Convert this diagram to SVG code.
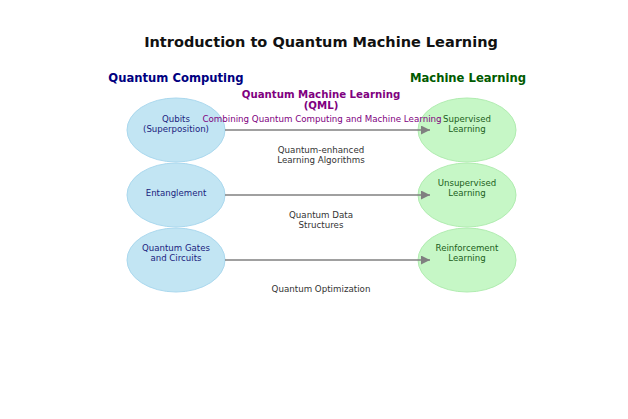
<svg xmlns="http://www.w3.org/2000/svg" width="628" height="419" viewBox="0 0 628 419">
<defs>
<style>
text{font-family:"DejaVu Sans",sans-serif;text-anchor:middle}
.title{font-size:14.5px;font-weight:bold;fill:#111}
.hq{font-size:11.6px;font-weight:bold;fill:#000080}
.hm{font-size:11.6px;font-weight:bold;fill:#005a00}
.qml{font-size:10.2px;font-weight:bold;fill:#800080}
.sub{font-size:8.7px;fill:#800080}
.lq{fill:#c2e5f3;stroke:#aad8ee;stroke-width:1}
.lm{fill:#c6f7c6;stroke:#b0ecb0;stroke-width:1}
.tq{font-size:8.6px;fill:#1a237e}
.tm{font-size:8.6px;fill:#1b5e20}
.lbl{font-size:8.7px;fill:#333}
.edge{stroke:#808080;stroke-width:1.5;fill:none;marker-end:url(#ah)}
</style>
<marker id="ah" viewBox="0 0 10 10" refX="10" refY="5" markerWidth="12" markerHeight="9" markerUnits="userSpaceOnUse" orient="auto"><path d="M0,0L10,5L0,10z" fill="#808080"/></marker>
</defs>
<rect width="628" height="419" fill="#fff"/>
<text class="title" x="321" y="47">Introduction to Quantum Machine Learning</text>
<text class="hq" x="176" y="82">Quantum Computing</text>
<text class="hm" x="468" y="82">Machine Learning</text>
<text class="qml" x="321" y="98">Quantum Machine Learning</text>
<text class="qml" x="321" y="109">(QML)</text>
<g id="q1"><ellipse class="lq" cx="176" cy="130" rx="49" ry="32"/><text class="tq" x="176" y="122">Qubits</text><text class="tq" x="176" y="132">(Superposition)</text></g>
<g id="q2"><ellipse class="lq" cx="176" cy="195" rx="49" ry="32"/><text class="tq" x="176" y="196">Entanglement</text></g>
<g id="q3"><ellipse class="lq" cx="176" cy="260" rx="49" ry="32"/><text class="tq" x="176" y="251">Quantum Gates</text><text class="tq" x="176" y="261">and Circuits</text></g>
<g id="m1"><ellipse class="lm" cx="467" cy="130" rx="49" ry="32"/><text class="tm" x="467" y="122">Supervised</text><text class="tm" x="467" y="132">Learning</text></g>
<g id="m2"><ellipse class="lm" cx="467" cy="195" rx="49" ry="32"/><text class="tm" x="467" y="186">Unsupervised</text><text class="tm" x="467" y="196">Learning</text></g>
<g id="m3"><ellipse class="lm" cx="467" cy="260" rx="49" ry="32"/><text class="tm" x="467" y="251">Reinforcement</text><text class="tm" x="467" y="261">Learning</text></g>
<g id="connectors">
<line class="edge" x1="225" y1="130" x2="430" y2="130"/>
<line class="edge" x1="225" y1="195" x2="430" y2="195"/>
<line class="edge" x1="225" y1="260" x2="430" y2="260"/>
</g>
<text class="sub" x="322" y="122">Combining Quantum Computing and Machine Learning</text>
<text class="lbl" x="321" y="153">Quantum-enhanced</text>
<text class="lbl" x="321" y="163">Learning Algorithms</text>
<text class="lbl" x="321" y="218">Quantum Data</text>
<text class="lbl" x="321" y="228">Structures</text>
<text class="lbl" x="321" y="292">Quantum Optimization</text>
</svg>
